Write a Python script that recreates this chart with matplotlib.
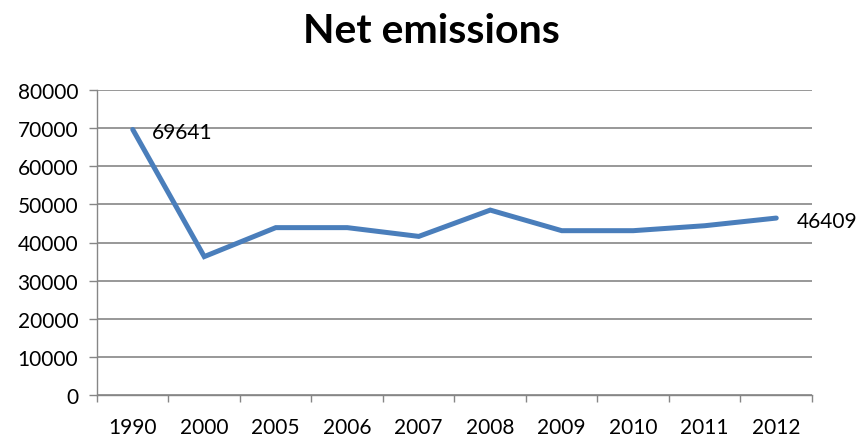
import matplotlib
matplotlib.use("Agg")
import matplotlib.pyplot as plt
import numpy as np

years = ["1990", "2000", "2005", "2006", "2007", "2008", "2009", "2010", "2011", "2012"]
net_emissions = [69641, 36300, 43900, 43900, 41600, 48500, 43100, 43100, 44400, 46409]
y_ticks = [0, 10000, 20000, 30000, 40000, 50000, 60000, 70000, 80000]

plt.rcParams['font.family'] = ['Lato', 'DejaVu Sans']
FS = 15

fig = plt.figure(figsize=(8.62, 4.39), dpi=100)
ax = fig.add_axes([97/862, 1-396/439, (812-97)/862, (396-91)/439])

x = np.arange(len(years))
ax.plot(x, net_emissions, color='#4A7EBB', lw=3.6, solid_capstyle='round', solid_joinstyle='miter', zorder=3)

ax.set_xlim(-0.5, len(years) - 0.5)
ax.set_ylim(0, 80000)
ax.set_yticks(y_ticks)
ax.set_yticklabels([str(v) for v in y_ticks], fontsize=FS)
ax.set_xticks(x)
ax.set_xticklabels(years, fontsize=FS)
ax.tick_params(axis='x', which='major', length=0, pad=16)
ax.set_xticks(np.arange(-0.5, len(years)), minor=True)
ax.tick_params(axis='x', which='minor', length=5, color='#868686', width=1)
ax.tick_params(axis='y', length=5.5, color='#868686', width=1, pad=8)

ax.grid(axis='y', color='#868686', lw=1.2)
ax.set_axisbelow(True)
for s in ['top', 'right']:
    ax.spines[s].set_visible(False)
for s in ['left', 'bottom']:
    ax.spines[s].set_color('#868686')
    ax.spines[s].set_linewidth(1)

ax.annotate(str(net_emissions[0]), (x[0], net_emissions[0]), xytext=(14, -2),
            textcoords='offset points', fontsize=FS, va='center', ha='left')
ax.annotate(str(net_emissions[-1]), (x[-1], net_emissions[-1]), xytext=(15, -2),
            textcoords='offset points', fontsize=FS, va='center', ha='left',
            annotation_clip=False)

fig.text(0.5, 1 - 43/439, "Net emissions", ha='center', va='baseline', fontsize=29.5, fontweight='bold')

fig.savefig("out.png", dpi=100)
